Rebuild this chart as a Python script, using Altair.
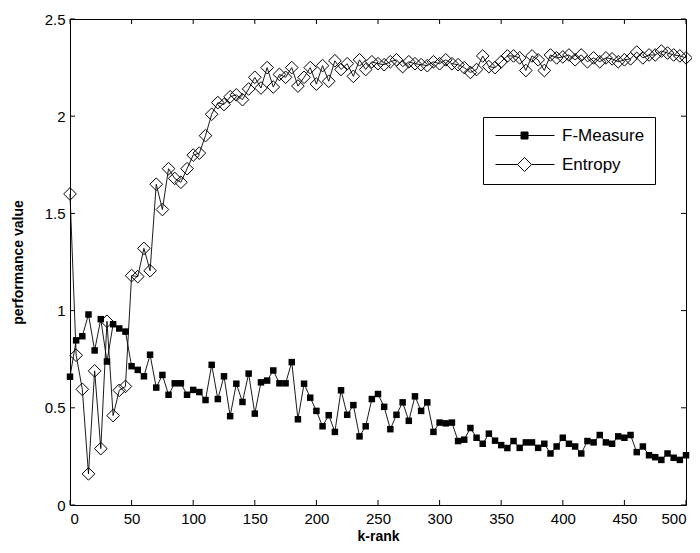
import altair as alt
import pandas as pd

k_rank = list(range(0, 501, 5))

f_measure = [0.66, 0.847, 0.868, 0.98, 0.795, 0.956, 0.738, 0.93, 0.908, 0.892,
             0.714, 0.695, 0.662, 0.773, 0.604, 0.669, 0.567, 0.626, 0.626, 0.567,
             0.592, 0.581, 0.54, 0.721, 0.545, 0.662, 0.457, 0.624, 0.53, 0.676,
             0.47, 0.631, 0.64, 0.692, 0.626, 0.626, 0.735, 0.441, 0.624, 0.552,
             0.484, 0.405, 0.462, 0.376, 0.59, 0.464, 0.514, 0.353, 0.405, 0.545,
             0.571, 0.505, 0.39, 0.464, 0.528, 0.433, 0.559, 0.484, 0.528, 0.376,
             0.424, 0.42, 0.424, 0.329, 0.336, 0.396, 0.346, 0.315, 0.367, 0.331,
             0.308, 0.293, 0.329, 0.294, 0.322, 0.322, 0.294, 0.315, 0.265, 0.301,
             0.346, 0.315, 0.301, 0.265, 0.329, 0.322, 0.36, 0.322, 0.315, 0.353,
             0.346, 0.36, 0.272, 0.301, 0.256, 0.246, 0.232, 0.265, 0.243, 0.232,
             0.256]

entropy = [1.60, 0.77, 0.595, 0.16, 0.69, 0.29, 0.945, 0.46, 0.59, 0.61,
           1.18, 1.175, 1.32, 1.205, 1.65, 1.52, 1.73, 1.68, 1.66, 1.73,
           1.80, 1.81, 1.90, 2.01, 2.07, 2.06, 2.10, 2.11, 2.085, 2.14,
           2.20, 2.145, 2.25, 2.15, 2.215, 2.20, 2.25, 2.155, 2.20, 2.25,
           2.165, 2.26, 2.18, 2.285, 2.24, 2.27, 2.205, 2.29, 2.24, 2.28,
           2.27, 2.265, 2.28, 2.29, 2.255, 2.28, 2.27, 2.265, 2.26, 2.28,
           2.27, 2.29, 2.27, 2.265, 2.25, 2.225, 2.24, 2.31, 2.255, 2.25,
           2.28, 2.31, 2.31, 2.30, 2.235, 2.31, 2.29, 2.235, 2.315, 2.30,
           2.305, 2.315, 2.29, 2.315, 2.28, 2.30, 2.28, 2.30, 2.295, 2.28,
           2.29, 2.295, 2.33, 2.30, 2.315, 2.315, 2.335, 2.325, 2.315, 2.31,
           2.30]

series_names = ["F-Measure", "Entropy"]
x_ticks = [0, 50, 100, 150, 200, 250, 300, 350, 400, 450, 500]
y_ticks = [0, 0.5, 1, 1.5, 2, 2.5]

W, H = 616, 486
FONT = "Liberation Sans"

df = pd.DataFrame({"k": k_rank, "F-Measure": f_measure, "Entropy": entropy})
xt = pd.DataFrame({"t": x_ticks})
yt = pd.DataFrame({"t": y_ticks})

xs = alt.Scale(domain=[0, 500], nice=False, zero=False)
ys = alt.Scale(domain=[0, 2.5], nice=False)

x_enc = alt.X("k:Q", scale=xs, axis=alt.Axis(
    title="k-rank", values=x_ticks, domain=False, ticks=False, grid=False,
    labelFont=FONT, labelFontSize=15, labelColor="black", labelPadding=6,
    titleFont=FONT, titleFontSize=14, titleFontWeight="bold", titleColor="black",
    titlePadding=3))

def y_enc(field):
    return alt.Y(field, scale=ys, axis=alt.Axis(
        title="performance value", values=y_ticks, format="~g", domain=False, ticks=False,
        grid=False, labelFont=FONT, labelFontSize=15, labelColor="black", labelPadding=5,
        titleFont=FONT, titleFontSize=14, titleFontWeight="bold", titleColor="black",
        titlePadding=19))

base = alt.Chart(df)

line_f = base.mark_line(color="black", strokeWidth=0.9).encode(x=x_enc, y=y_enc("F-Measure:Q"))
pts_f = base.mark_point(shape="square", filled=True, color="black", size=42, opacity=1).encode(
    x="k:Q", y="F-Measure:Q")
line_e = base.mark_line(color="black", strokeWidth=0.9).encode(x="k:Q", y="Entropy:Q")
pts_e = base.mark_point(shape="diamond", filled=False, color="black", size=160,
                        strokeWidth=1, opacity=1).encode(x="k:Q", y="Entropy:Q")

path_f = "M-0.857,0H7.57M2.79,-0.5H3.79V0.5H2.79Z"
path_e = "M-0.857,0H2.29M4.29,0H7.57M3.29,-1L4.29,0L3.29,1L2.29,0Z"

leg = alt.Legend(title=None, orient="none", legendX=413, legendY=98,
                 padding=10, rowPadding=11, strokeColor="black", fillColor="white",
                 symbolSize=196, symbolStrokeColor="black", symbolStrokeWidth=1,
                 labelFont=FONT, labelFontSize=17, labelColor="black", labelOffset=52,
                 symbolOpacity=1)

legend_layer = base.transform_fold(series_names, as_=["series", "value"]).transform_filter(
    "datum.k < 0").mark_point(filled=True, strokeWidth=1).encode(
    x="k:Q", y="value:Q",
    shape=alt.Shape("series:N", scale=alt.Scale(domain=series_names, range=[path_f, path_e]), legend=leg),
    fill=alt.Fill("series:N", scale=alt.Scale(domain=series_names, range=["black", "white"]), legend=leg),
    stroke=alt.Stroke("series:N", scale=alt.Scale(domain=series_names, range=["black", "black"]), legend=leg))

tick_top = alt.Chart(xt).mark_rule(color="black", strokeWidth=1).encode(
    x="t:Q", y=alt.value(0), y2=alt.value(5))
tick_bot = alt.Chart(xt).mark_rule(color="black", strokeWidth=1).encode(
    x="t:Q", y=alt.value(H), y2=alt.value(H - 5))
tick_left = alt.Chart(yt).mark_rule(color="black", strokeWidth=1).encode(
    y="t:Q", x=alt.value(0), x2=alt.value(5))
tick_right = alt.Chart(yt).mark_rule(color="black", strokeWidth=1).encode(
    y="t:Q", x=alt.value(W), x2=alt.value(W - 5))

chart = alt.layer(line_f, line_e, pts_f, pts_e, legend_layer,
                  tick_top, tick_bot, tick_left, tick_right).properties(
    width=W, height=H,
    autosize=alt.AutoSizeParams(type="none"),
    padding={"left": 62, "top": 11, "right": 6, "bottom": 40},
    background="white",
).configure_view(stroke="black", strokeWidth=1)

chart.save("out.html", embed_options={"renderer": "svg", "actions": False})
